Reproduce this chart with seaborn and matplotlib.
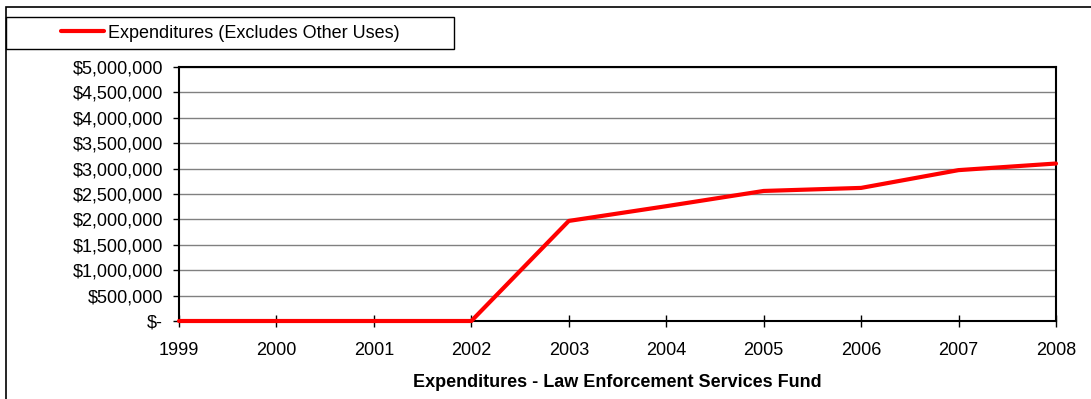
import matplotlib
matplotlib.use("Agg")
import matplotlib.pyplot as plt
from matplotlib.patches import Rectangle
from matplotlib.lines import Line2D
import seaborn as sns
import pandas as pd

years = [1999, 2000, 2001, 2002, 2003, 2004, 2005, 2006, 2007, 2008]
expenditures = [0, 0, 0, 0, 1970000, 2260000, 2560000, 2620000, 2970000, 3100000]
series_name = "Expenditures (Excludes Other Uses)"
y_ticks = [0, 500000, 1000000, 1500000, 2000000, 2500000, 3000000, 3500000, 4000000, 4500000, 5000000]
y_tick_labels = ["$-", "$500,000", "$1,000,000", "$1,500,000", "$2,000,000", "$2,500,000",
                 "$3,000,000", "$3,500,000", "$4,000,000", "$4,500,000", "$5,000,000"]
x_title = "Expenditures - Law Enforcement Services Fund"

sns.set_theme(style="white", rc={"text.color": "black", "axes.labelcolor": "black",
                                 "xtick.color": "black", "ytick.color": "black"})
plt.rcParams["font.family"] = ["Liberation Sans", "DejaVu Sans"]

W, H = 1091, 399
fig = plt.figure(figsize=(W / 100, H / 100), dpi=100)
ax = fig.add_axes([179 / W, 1 - 321 / H, (1056 - 179) / W, (321 - 67) / H])

df = pd.DataFrame({"year": years, "value": expenditures})
sns.lineplot(data=df, x="year", y="value", ax=ax, color="#FF0000", linewidth=3.0,
             clip_on=False, zorder=5)

ax.set_xlim(years[0], years[-1])
ax.set_ylim(0, 5000000)
ax.set_xticks(years)
ax.set_xticklabels([str(y) for y in years])
ax.set_yticks(y_ticks)
ax.set_yticklabels(y_tick_labels)
ax.yaxis.grid(True, color="#808080", linewidth=1.0)
ax.xaxis.grid(False)
ax.set_axisbelow(True)
ax.set_ylabel("")
ax.set_xlabel(x_title, fontsize=13, fontweight="bold", labelpad=11, color="black")
ax.tick_params(axis="both", which="major", width=1, color="black",
               labelsize=13, labelcolor="black", left=True, bottom=True)
ax.tick_params(axis="y", direction="out", length=4, pad=7.5)
ax.tick_params(axis="x", direction="inout", length=8, pad=11)
for s in ax.spines.values():
    s.set_color("black")
    s.set_linewidth(1.5)

# outer chart border
fig.patches.append(Rectangle((6 / W, -0.1), 1.2, 1 - 7 / H + 0.1, transform=fig.transFigure,
                             fill=False, edgecolor="black", linewidth=1.2, clip_on=False))
# legend box
fig.patches.append(Rectangle((6 / W, 1 - 49 / H), (454 - 6) / W, 32 / H, transform=fig.transFigure,
                             fill=False, edgecolor="black", linewidth=1.0))
handle = Line2D([], [], color="#FF0000", linewidth=3.0)
fig.legend([handle], [series_name], loc="center", bbox_to_anchor=(230 / W, 1 - 33 / H),
           frameon=False, fontsize=13, handlelength=2.4, handletextpad=0.22,
           borderpad=0, borderaxespad=0)

fig.savefig("out.png", dpi=100)
